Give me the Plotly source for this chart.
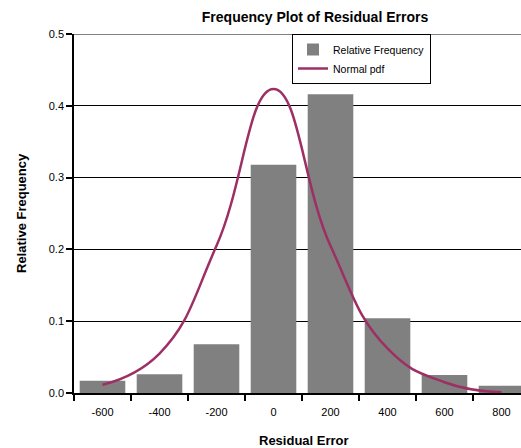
import plotly.graph_objects as go

categories = ["-600", "-400", "-200", "0", "200", "400", "600", "800"]
rel_freq = [0.017, 0.026, 0.068, 0.318, 0.416, 0.104, 0.025, 0.010]
normal_pdf = [0.0115, 0.055, 0.205, 0.4235, 0.205, 0.062, 0.015, 0.001]
y_ticks = [0.0, 0.1, 0.2, 0.3, 0.4, 0.5]

FONT = "Liberation Sans, Arial, sans-serif"

fig = go.Figure()
fig.add_trace(go.Bar(
    x=categories, y=rel_freq, name="Relative Frequency",
    marker=dict(color="#808080", line=dict(width=0)),
))
fig.add_trace(go.Scatter(
    x=categories, y=normal_pdf, name="Normal pdf", mode="lines",
    line=dict(color="#9E2F64", width=2.5, shape="spline", smoothing=1.3),
))

L, R, T, B = 74, 0, 34, 55
W, H = 521, 448
pw = W - L - R
cat_w = 57.0

fig.update_layout(
    width=W, height=H,
    margin=dict(l=L, r=R, t=T, b=B),
    paper_bgcolor="white", plot_bgcolor="white",
    bargap=0.2,
    font=dict(family=FONT, size=11, color="black"),
    showlegend=True,
    legend=dict(
        x=(292 - L) / pw, y=1.0, xanchor="left", yanchor="top",
        bgcolor="white", bordercolor="black", borderwidth=1,
        font=dict(size=10.5, family=FONT),
        tracegroupgap=0, itemwidth=30,
    ),
    title=dict(
        text="<b>Frequency Plot of Residual Errors</b>",
        x=(315 - L) / pw, xref="paper", xanchor="center",
        y=1 - 17 / H, yanchor="middle",
        font=dict(size=14, family=FONT, color="black"),
    ),
    xaxis=dict(
        type="category",
        range=[-0.5, -0.5 + pw / cat_w],
        showgrid=False,
        showline=True, linecolor="black", linewidth=1.5,
        ticks="outside", tickson="boundaries", ticklen=6, tickcolor="black", tickwidth=1.5,
        ticklabelstandoff=8,
        tickfont=dict(size=11, family=FONT),
    ),
    yaxis=dict(
        range=[0, 0.5], tickvals=y_ticks, tickformat=".1f",
        showgrid=True, gridcolor="black", gridwidth=1,
        showline=True, linecolor="black", linewidth=1.5,
        ticks="outside", ticklen=6, tickcolor="black", tickwidth=1.5,
        zeroline=False,
        tickfont=dict(size=11, family=FONT),
    ),
    shapes=[
        dict(type="line", xref="paper", yref="y", x0=0, x1=1, y0=0.5, y1=0.5,
             line=dict(color="black", width=1), layer="below"),
    ],
    annotations=[
        dict(text="<b>Relative Frequency</b>", textangle=-90,
             xref="paper", yref="paper", x=-(L - 21.5) / pw, y=0.5,
             xanchor="center", yanchor="middle", showarrow=False,
             font=dict(size=13, family=FONT)),
        dict(text="<b>Residual Error</b>",
             xref="paper", yref="paper", x=(304 - L) / pw, y=-(440 - (H - B)) / (H - T - B),
             xanchor="center", yanchor="middle", showarrow=False,
             font=dict(size=13, family=FONT)),
    ],
)

fig.write_html("out.html")
